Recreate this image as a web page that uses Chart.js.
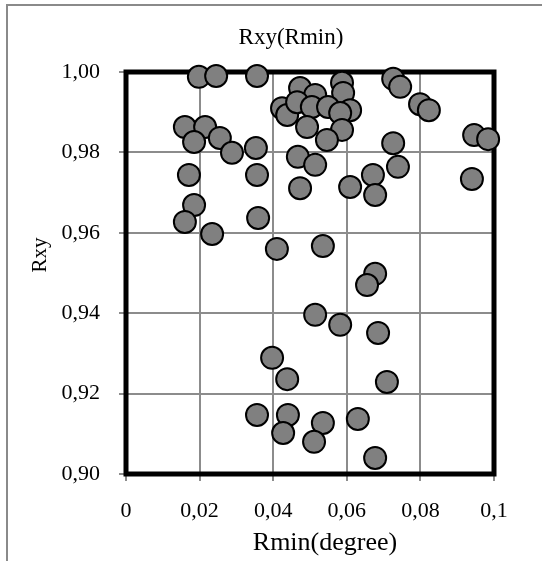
<!DOCTYPE html>
<html>
<head>
<meta charset="utf-8">
<script src="https://cdn.jsdelivr.net/npm/chart.js@4/dist/chart.umd.min.js"></script>
<style>
  html, body { margin: 0; padding: 0; background: #fff; }
  #wrap { position: relative; width: 542px; height: 567px; }
  #frame { position: absolute; left: 6px; top: 4px; right: 0; bottom: 6px;
           border-left: 2px solid #8a8a8a; border-top: 2px solid #8a8a8a; }
  #chart { position: absolute; left: 0; top: 0; }
</style>
</head>
<body>
<div id="wrap">
  <div id="frame"></div>
  <canvas id="chart" width="542" height="567"></canvas>
</div>
<script>
// Rmin (degree) and Rxy
const rmin = [
  0.0198, 0.0245, 0.0356, 0.0726, 0.0745,
  0.0473, 0.0514, 0.0587, 0.0590, 0.0424, 0.0438, 0.0465, 0.0505, 0.0549,
  0.0609, 0.0582, 0.0492, 0.0587, 0.0546,
  0.0799, 0.0823, 0.0946, 0.0984, 0.0940, 0.0726, 0.0739,
  0.0467, 0.0514, 0.0473, 0.0609, 0.0671, 0.0677,
  0.0160, 0.0215, 0.0185, 0.0255, 0.0288, 0.0353, 0.0171, 0.0356, 0.0185,
  0.0160, 0.0234, 0.0359, 0.0410,
  0.0535, 0.0677, 0.0655, 0.0514, 0.0582, 0.0685, 0.0397, 0.0438, 0.0709,
  0.0356, 0.0440, 0.0427, 0.0535, 0.0511, 0.0630, 0.0677
];
const rxy = [
  0.9988, 0.9990, 0.9990, 0.9983, 0.9963,
  0.9960, 0.9943, 0.9973, 0.9948, 0.9910, 0.9893, 0.9925, 0.9913, 0.9913,
  0.9905, 0.9898, 0.9863, 0.9856, 0.9831,
  0.9920, 0.9905, 0.9843, 0.9833, 0.9734, 0.9823, 0.9764,
  0.9789, 0.9769, 0.9711, 0.9714, 0.9744, 0.9694,
  0.9863, 0.9863, 0.9826, 0.9836, 0.9799, 0.9811, 0.9744, 0.9744, 0.9669,
  0.9627, 0.9597, 0.9637, 0.9560,
  0.9567, 0.9498, 0.9470, 0.9396, 0.9371, 0.9351, 0.9289, 0.9236, 0.9229,
  0.9147, 0.9147, 0.9102, 0.9127, 0.9080, 0.9137, 0.9040
];
const xTicks = [0, 0.02, 0.04, 0.06, 0.08, 0.1];
const xTickLabels = ['0', '0,02', '0,04', '0,06', '0,08', '0,1'];
const yTicks = [0.90, 0.92, 0.94, 0.96, 0.98, 1.00];
const yTickLabels = ['0,90', '0,92', '0,94', '0,96', '0,98', '1,00'];
const chartTitle = 'Rxy(Rmin)';
const xTitle = 'Rmin(degree)';
const yTitle = 'Rxy';

const points = rmin.map((x, i) => ({ x: x, y: rxy[i] }));

const serif = '"Liberation Serif", "Times New Roman", serif';
const gridGray = '#8c8c8c';

// thick black frame round the plot area, under the points
const plotFrame = {
  id: 'plotFrame',
  beforeDatasetsDraw(chart) {
    const a = chart.chartArea;
    const c = chart.ctx;
    c.save();
    c.strokeStyle = '#000';
    c.lineWidth = 5;
    c.strokeRect(a.left, a.top, a.right - a.left, a.bottom - a.top);
    c.restore();
  }
};

// titles sit a little off the plot centre in the original, so place them by hand
const titles = {
  id: 'titles',
  afterDraw(chart) {
    const c = chart.ctx;
    c.save();
    c.fillStyle = '#000';
    c.textAlign = 'center';
    c.textBaseline = 'middle';
    c.font = '23px ' + serif;
    c.fillText(chartTitle, 291, 38);
    c.font = '26px ' + serif;
    c.fillText(xTitle, 325, 543);
    c.translate(40, 255);
    c.rotate(-Math.PI / 2);
    c.font = '21px ' + serif;
    c.fillText(yTitle, 0, 0);
    c.restore();
  }
};

function pickTicks(list) {
  return function (axis) {
    axis.ticks = list.map(v => ({ value: v }));
  };
}

const ctx = document.getElementById('chart').getContext('2d');
const chart = new Chart(ctx, {
  type: 'scatter',
  data: {
    datasets: [{
      data: points,
      backgroundColor: '#808080',
      borderColor: '#000',
      borderWidth: 2,
      pointRadius: 11,
      pointHoverRadius: 11,
      clip: false
    }]
  },
  options: {
    responsive: false,
    animation: false,
    layout: { padding: { left: 0, right: 48, top: 72, bottom: 0 } },
    plugins: {
      legend: { display: false },
      tooltip: { enabled: false },
      title: { display: false }
    },
    scales: {
      x: {
        type: 'linear',
        min: 0,
        max: 0.1,
        afterBuildTicks: pickTicks(xTicks),
        afterFit(s) { s.height = 93; },
        grid: { color: gridGray, lineWidth: 2, tickLength: 7, tickColor: gridGray },
        border: { display: false },
        ticks: {
          color: '#000',
          padding: 17,
          font: { family: serif, size: 22 },
          callback: (v) => xTickLabels[xTicks.findIndex(t => Math.abs(t - v) < 1e-9)]
        }
      },
      y: {
        type: 'linear',
        min: 0.90,
        max: 1.00,
        afterBuildTicks: pickTicks(yTicks),
        afterFit(s) { s.width = 126; },
        grid: { color: gridGray, lineWidth: 2, tickLength: 7, tickColor: gridGray },
        border: { display: false },
        ticks: {
          color: '#000',
          padding: 19,
          font: { family: serif, size: 22 },
          callback: (v) => yTickLabels[yTicks.findIndex(t => Math.abs(t - v) < 1e-9)]
        }
      }
    }
  },
  plugins: [plotFrame, titles]
});
</script>
</body>
</html>
